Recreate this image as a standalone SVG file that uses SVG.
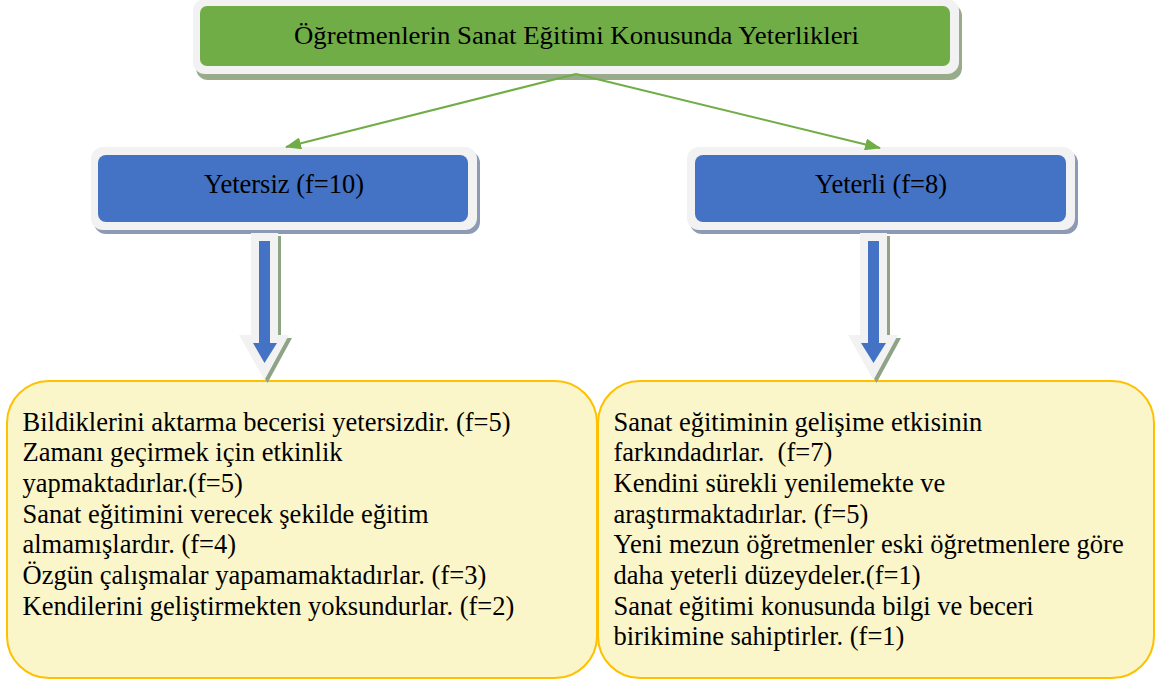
<svg xmlns="http://www.w3.org/2000/svg" width="1155" height="682" viewBox="0 0 1155 682">
<style>
text{font-family:'Liberation Serif','Times New Roman',serif;fill:#000;}
.t{font-size:26.5px;}
.frame{fill:#f2f2f2;}
.blue{fill:#4472c4;}
.bshadow{fill:#8c9ab5;}
.gshadow{fill:#9aab8c;}
.yellow{fill:#faf6ca;stroke:#ffc000;stroke-width:2;}
.conn{stroke:#70ad47;stroke-width:2;fill:none;}
.ashadow{fill:#8fa386;}
.awhite{fill:#f2f2f2;}
</style>
<defs>
<marker id="gArrow" viewBox="0 0 16 12" refX="15" refY="6" markerWidth="16" markerHeight="12" markerUnits="userSpaceOnUse" orient="auto">
<path d="M0,0 L16,6 L0,12 z" fill="#70ad47"/>
</marker>
</defs>
<rect width="1155" height="682" fill="#fff"/>

<g id="node-top">
<rect x="196" y="4" width="766" height="76" rx="12" class="gshadow"/>
<rect x="193" y="-1" width="766" height="75" rx="12" class="frame"/>
<rect x="200" y="6" width="750" height="60" rx="7" fill="#70ad47"/>
<text x="576.5" y="43.5" font-family="Liberation Serif" font-size="24.5" text-anchor="middle" textLength="565" lengthAdjust="spacingAndGlyphs">Öğretmenlerin Sanat Eğitimi Konusunda Yeterlikleri</text>
</g>

<g id="node-yetersiz">
<rect x="94" y="151" width="386" height="83" rx="12" class="bshadow"/>
<rect x="91" y="147" width="386" height="83" rx="12" class="frame"/>
<rect x="98" y="155" width="370" height="67" rx="8" class="blue"/>
<text x="284" y="193" font-family="Liberation Serif" class="t" text-anchor="middle">Yetersiz (f=10)</text>
</g>

<g id="node-yeterli">
<rect x="690" y="151" width="388" height="83" rx="12" class="bshadow"/>
<rect x="687" y="147" width="388" height="83" rx="12" class="frame"/>
<rect x="695" y="155" width="371" height="67" rx="8" class="blue"/>
<text x="881" y="193" font-family="Liberation Serif" class="t" text-anchor="middle">Yeterli (f=8)</text>
</g>

<g id="node-left-list">
<rect x="7" y="381" width="590" height="297" rx="42" class="yellow"/>
<text x="22.5" y="430.5" font-family="Liberation Serif" class="t">Bildiklerini aktarma becerisi yetersizdir. (f=5)</text>
<text x="22.5" y="461.2" font-family="Liberation Serif" class="t">Zamanı geçirmek için etkinlik</text>
<text x="22.5" y="491.9" font-family="Liberation Serif" class="t">yapmaktadırlar.(f=5)</text>
<text x="22.5" y="522.6" font-family="Liberation Serif" class="t">Sanat eğitimini verecek şekilde eğitim</text>
<text x="22.5" y="553.3" font-family="Liberation Serif" class="t">almamışlardır. (f=4)</text>
<text x="22.5" y="584" font-family="Liberation Serif" class="t">Özgün çalışmalar yapamamaktadırlar. (f=3)</text>
<text x="22.5" y="614.7" font-family="Liberation Serif" class="t">Kendilerini geliştirmekten yoksundurlar. (f=2)</text>
</g>

<g id="node-right-list">
<rect x="598" y="381" width="556" height="297" rx="42" class="yellow"/>
<text x="613.5" y="430.5" font-family="Liberation Serif" class="t">Sanat eğitiminin gelişime etkisinin</text>
<text x="613.5" y="461.2" font-family="Liberation Serif" class="t">farkındadırlar.&#160; (f=7)</text>
<text x="613.5" y="491.9" font-family="Liberation Serif" class="t">Kendini sürekli yenilemekte ve</text>
<text x="613.5" y="522.6" font-family="Liberation Serif" class="t">araştırmaktadırlar. (f=5)</text>
<text x="613.5" y="553.3" font-family="Liberation Serif" class="t">Yeni mezun öğretmenler eski öğretmenlere göre</text>
<text x="613.5" y="584" font-family="Liberation Serif" class="t">daha yeterli düzeydeler.(f=1)</text>
<text x="613.5" y="614.7" font-family="Liberation Serif" class="t">Sanat eğitimi konusunda bilgi ve beceri</text>
<text x="613.5" y="645.4" font-family="Liberation Serif" class="t">birikimine sahiptirler. (f=1)</text>
</g>

<g id="connectors">
<line x1="576" y1="74" x2="286" y2="147" class="conn" marker-end="url(#gArrow)"/>
<line x1="576" y1="74" x2="880" y2="148" class="conn" marker-end="url(#gArrow)"/>
<g id="arrow-left">
<polygon points="254,236 281,236 281,338 292,338 267.5,383 242,338 254,338" class="ashadow"/>
<polygon points="251,233 278,233 278,335 289,335 264.5,380 239,335 251,335" class="awhite"/>
<polygon points="259,241 270,241 270,343 277,343 264.5,363 253,343 259,343" class="blue"/>
</g>
<g id="arrow-right">
<polygon points="863,236 890,236 890,338 901,338 876.5,383 851,338 863,338" class="ashadow"/>
<polygon points="860,233 887,233 887,335 898,335 873.5,380 848,335 860,335" class="awhite"/>
<polygon points="868,241 879,241 879,343 886,343 873.5,363 861,343 868,343" class="blue"/>
</g>
</g>
</svg>
